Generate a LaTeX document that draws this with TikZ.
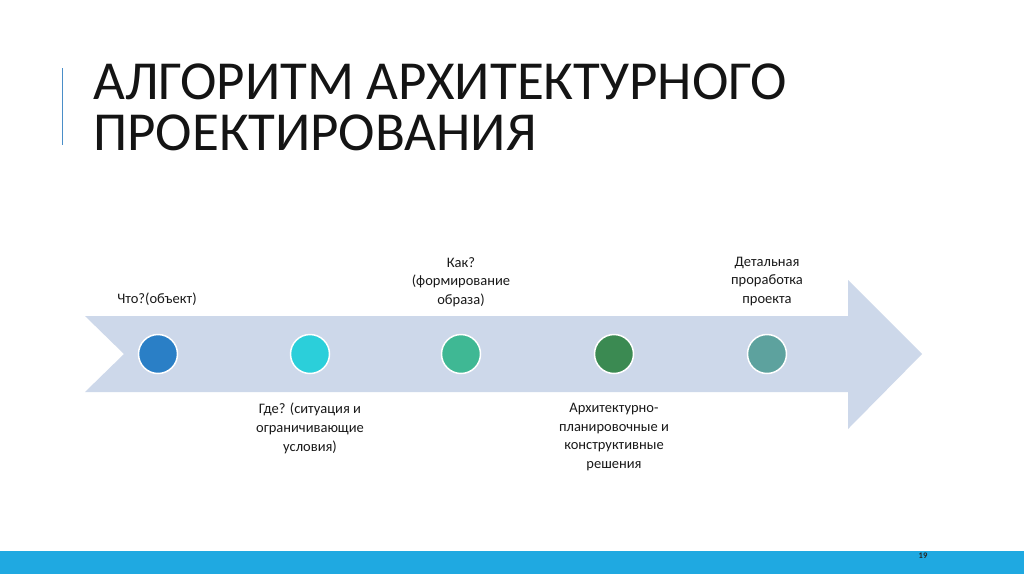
\documentclass[tikz,border=0pt]{standalone}
\usepackage{fontspec}
\setmainfont{Carlito}
\definecolor{arrowfill}{HTML}{CDD8EA}
\definecolor{cA}{HTML}{2A7FC6}
\definecolor{cB}{HTML}{2BCFDA}
\definecolor{cC}{HTML}{3FB894}
\definecolor{cD}{HTML}{3B8A52}
\definecolor{cE}{HTML}{5DA29E}
\definecolor{barblue}{HTML}{1FA9E1}
\definecolor{accent}{HTML}{4A8EC8}
\begin{document}
\begin{tikzpicture}[x=1pt,y=-1pt,
  dot/.style={circle,draw=white,line width=1.5pt,minimum size=39pt,inner sep=0pt},
  lbl/.style={align=center,font=\fontsize{14.5}{18.7}\selectfont,text=black!90,inner sep=0pt},
  titletext/.style={align=left,font=\fontsize{55}{51}\selectfont,text=black!92,inner sep=0pt,anchor=north west}]
\useasboundingbox (0,0) rectangle (1024,574);
\fill[white] (0,0) rectangle (1024,574);
% accent line
\draw[accent,line width=1.2pt] (62.5,68) -- (62.5,145);
% title
\node[titletext] (title) at (93,64) {АЛГОРИТМ АРХИТЕКТУРНОГО\\ПРОЕКТИРОВАНИЯ};
% arrow
\fill[arrowfill] (85,316) -- (848,316) -- (848,280) -- (922,354) -- (848,429) -- (848,392) -- (85,392) -- (124,354) -- cycle;
% dots
\node[dot,fill=cA] (d1) at (158,354) {};
\node[dot,fill=cB] (d2) at (310,354) {};
\node[dot,fill=cC] (d3) at (461,354) {};
\node[dot,fill=cD] (d4) at (614,354) {};
\node[dot,fill=cE] (d5) at (767,354) {};
% labels
\node[lbl,anchor=base] (t1) at (157,303) {Что?(объект)};
\node[lbl,anchor=south] (t3) at (461,307) {Как?\\(формирование\\образа)};
\node[lbl,anchor=south] (t5) at (767,306) {Детальная\\проработка\\проекта};
\node[lbl,anchor=north] (t2) at (310,403) {Где? (ситуация и\\ограничивающие\\условия)};
\node[lbl,anchor=north] (t4) at (614,403) {Архитектурно-\\планировочные и\\конструктивные\\решения};
% bottom bar
\fill[barblue] (0,551) rectangle (1024,574);
\node[font=\fontsize{8.5}{9}\selectfont\bfseries,text=black!85,inner sep=0pt] (pg) at (923,556) {19};
\end{tikzpicture}
\end{document}
